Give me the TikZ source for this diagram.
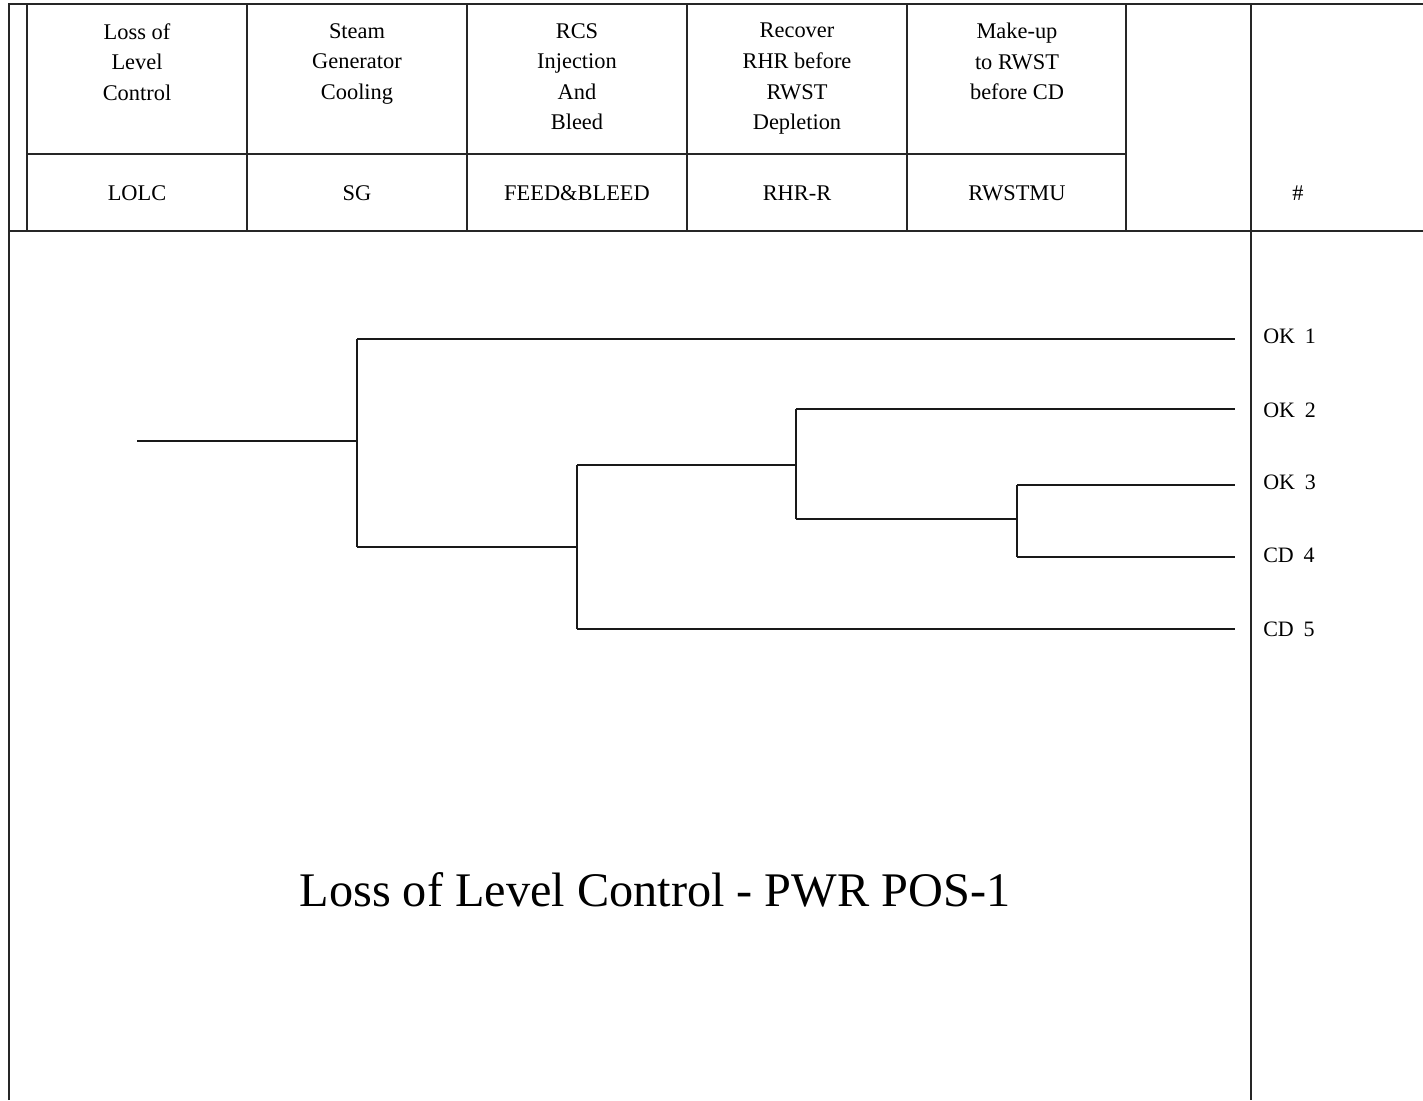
\documentclass[tikz,border=0pt]{standalone}
\usepackage{fontspec}
\setmainfont{Liberation Serif}
\usetikzlibrary{positioning}

\begin{document}
\begin{tikzpicture}[
    x=0.75pt, y=-0.75pt,
    frame/.style={line width=1.4pt, black!85},
    grid/.style={line width=1.1pt, black!85},
    branch/.style={line width=1pt, black!90},
    head/.style={align=center, inner sep=0pt, anchor=north, font=\fontsize{16.8}{22.9}\selectfont},
    tag/.style={inner sep=0pt, anchor=base, font=\fontsize{16.8}{19}\selectfont},
    endstate/.style={inner sep=0pt, anchor=base west, font=\fontsize{16.5}{19}\selectfont},
]
\useasboundingbox (0,0) rectangle (1423,1100);
% frame and header grid
\draw[frame] (9,1100) -- (9,4) -- (1423,4);
\draw[frame] (9,231) -- (1423,231);
\draw[frame] (1251,4) -- (1251,1100);
\draw[grid] (27,154) -- (1126,154);
\foreach \xc in {27,247,467,687,907,1126} \draw[grid] (\xc,4) -- (\xc,231);
% header texts
\node[head] (h1) at (137,23) {Loss of\\Level\\Control};
\node[head] (h2) at (357,23) {Steam\\Generator\\Cooling};
\node[head] (h3) at (577,23) {RCS\\Injection\\And\\Bleed};
\node[head] (h4) at (797,23) {Recover\\RHR before\\RWST\\Depletion};
\node[head] (h5) at (1017,23) {Make-up\\to RWST\\before CD};
\node[tag] (t1) at (137,200) {LOLC};
\node[tag] (t2) at (357,200) {SG};
\node[tag] (t3) at (577,200) {FEED\&BLEED};
\node[tag] (t4) at (797,200) {RHR-R};
\node[tag] (t5) at (1017,200) {RWSTMU};
\node[tag] (tnum) at (1298,200) {\#};
% event tree branch points
\coordinate (ie) at (137,441);
\coordinate (sg) at (357,441);
\coordinate (sgU) at (357,339);
\coordinate (sgD) at (357,547);
\coordinate (fb) at (577,547);
\coordinate (fbU) at (577,465);
\coordinate (fbD) at (577,629);
\coordinate (rhr) at (796,465);
\coordinate (rhrU) at (796,409);
\coordinate (rhrD) at (796,519);
\coordinate (mu) at (1017,519);
\coordinate (muU) at (1017,485);
\coordinate (muD) at (1017,557);
% sequence ends
\coordinate (e1) at (1235,339);
\coordinate (e2) at (1235,409);
\coordinate (e3) at (1235,485);
\coordinate (e4) at (1235,557);
\coordinate (e5) at (1235,629);
\node[endstate] (s1) at (1263,343) {OK\hspace{0.45em}1};
\node[endstate] (s2) at (1263,417) {OK\hspace{0.45em}2};
\node[endstate] (s3) at (1263,489) {OK\hspace{0.45em}3};
\node[endstate] (s4) at (1263,562) {CD\hspace{0.45em}4};
\node[endstate] (s5) at (1263,636) {CD\hspace{0.45em}5};
% branches
\draw[branch] (ie) -- (sg);
\draw[branch] (sgU) -- (sgD);
\draw[branch] (sgU) -- (e1);
\draw[branch] (sgD) -- (fb);
\draw[branch] (fbU) -- (fbD);
\draw[branch] (fbU) -- (rhr);
\draw[branch] (fbD) -- (e5);
\draw[branch] (rhrU) -- (rhrD);
\draw[branch] (rhrU) -- (e2);
\draw[branch] (rhrD) -- (mu);
\draw[branch] (muU) -- (muD);
\draw[branch] (muU) -- (e3);
\draw[branch] (muD) -- (e4);
% title
\node[inner sep=0pt, font=\fontsize{36.2}{40}\selectfont] (title) at (655,890) {Loss of Level Control - PWR POS-1};
\end{tikzpicture}
\end{document}
